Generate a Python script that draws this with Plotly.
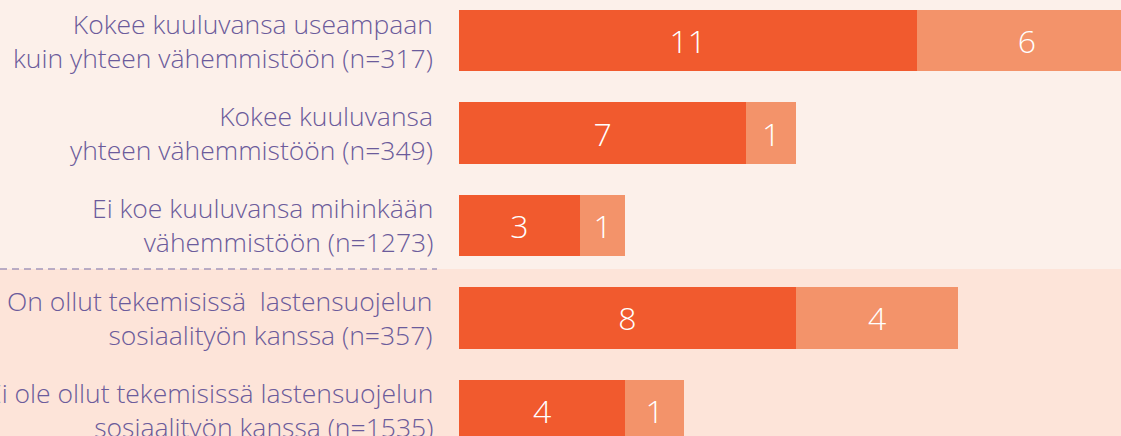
import plotly.graph_objects as go

categories = [
    "Kokee kuuluvansa useampaan<br>kuin yhteen vähemmistöön (n=317)",
    "Kokee kuuluvansa<br>yhteen vähemmistöön (n=349)",
    "Ei koe kuuluvansa mihinkään<br>vähemmistöön (n=1273)",
    "On ollut tekemisissä  lastensuojelun<br>sosiaalityön kanssa (n=357)",
    "Ei ole ollut tekemisissä lastensuojelun<br>sosiaalityön kanssa (n=1535)",
]
series_a = [11.0, 6.9, 2.9, 8.1, 4.0]
series_b = [5.3, 1.2, 1.1, 3.9, 1.4]
labels_a = ["11", "7", "3", "8", "4"]
labels_b = ["6", "1", "1", "4", "1"]

ypos = list(range(len(categories)))
FONT = "Open Sans"
label_color = "#6b5b9b"

fig = go.Figure()
fig.add_trace(go.Bar(
    y=ypos, x=series_a, orientation="h", marker=dict(color="#f15a2e", line=dict(width=0)),
    text=labels_a, textposition="inside", insidetextanchor="middle",
    textfont=dict(family=FONT, size=32, color="white", weight=300),
    hoverinfo="skip", showlegend=False,
))
fig.add_trace(go.Bar(
    y=ypos, x=series_b, orientation="h", marker=dict(color="#f3936a", line=dict(width=0)),
    text=labels_b, textposition="inside", insidetextanchor="middle",
    textfont=dict(family=FONT, size=32, color="white", weight=300),
    hoverinfo="skip", showlegend=False,
))

annotations = [
    dict(xref="paper", yref="y", x=0, y=y, xshift=-24, xanchor="right", yanchor="middle",
         align="right", text=cat, showarrow=False,
         font=dict(family=FONT, size=26.5, color=label_color, weight=300))
    for y, cat in zip(ypos, categories)
]

plot_w = 1121 - 459
fig.update_layout(
    barmode="stack",
    bargap=0.34,
    width=1121, height=436,
    margin=dict(l=459, r=0, t=0, b=0),
    paper_bgcolor="#fcf0ea",
    plot_bgcolor="rgba(0,0,0,0)",
    xaxis=dict(range=[0, plot_w / 41.6], visible=False, fixedrange=True),
    yaxis=dict(
        range=[4.276, -0.438], showticklabels=False,
        showgrid=False, zeroline=False, showline=False, ticks="",
        fixedrange=True, automargin=False,
    ),
    annotations=annotations,
    shapes=[
        dict(type="rect", xref="paper", yref="y", x0=-1, x1=2, y0=2.47, y1=6,
             fillcolor="#fde4d9", line=dict(width=0), layer="below"),
        dict(type="line", xref="paper", yref="y", x0=-459 / plot_w, x1=(437 - 459) / plot_w,
             y0=2.47, y1=2.47, line=dict(color="#a297bb", width=1.5, dash="7px,5px")),
    ],
)

fig.write_html("out.html", config={"displayModeBar": False},
               post_script="document.body.style.margin='0';document.body.style.overflow='hidden';")
